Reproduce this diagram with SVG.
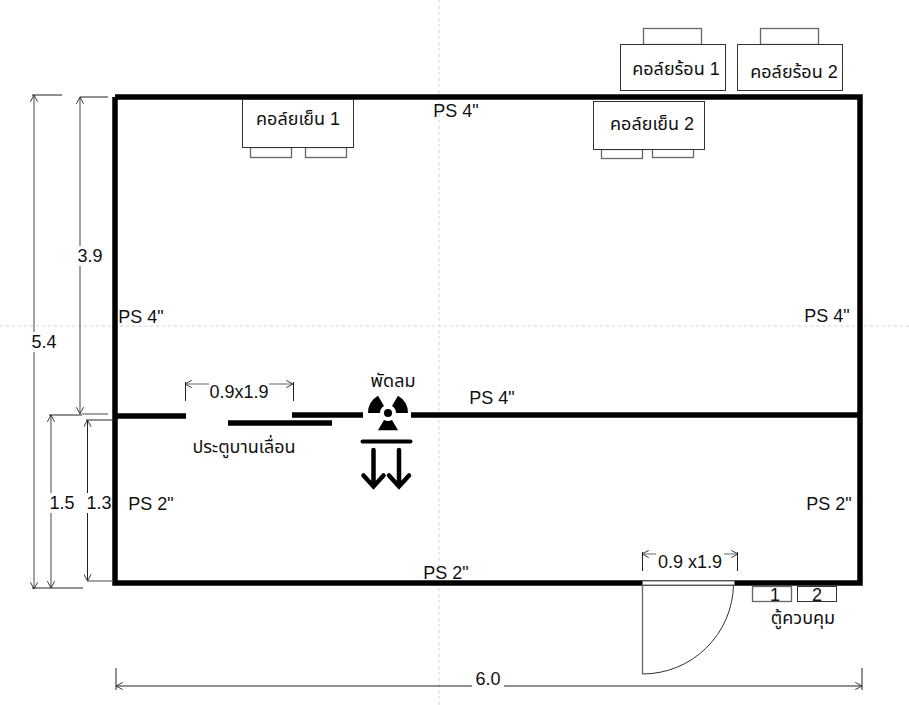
<svg xmlns="http://www.w3.org/2000/svg" width="909" height="705" viewBox="0 0 909 705">
<style>
text{font-family:"Liberation Sans","Noto Sans Thai","Noto Sans","DejaVu Sans",sans-serif;font-size:18px;fill:#111;text-anchor:middle}
.wall{fill:none;stroke:#000;stroke-width:5.500}
.dim{fill:none;stroke:#666;stroke-width:1.2}
.tick{fill:none;stroke:#222;stroke-width:1}
.box{fill:#fff;stroke:#333;stroke-width:1}
.sub{fill:#fff;stroke:#666;stroke-width:1.3}
.guide{stroke:#d4d4d4;stroke-width:1;stroke-dasharray:3 3;fill:none}
.mask{fill:#fff}
</style>
<defs>
<marker id="ah" viewBox="0 0 10 10" refX="9.5" refY="5" markerWidth="8" markerHeight="8" markerUnits="userSpaceOnUse" orient="auto-start-reverse">
<path d="M1 0.5L9.5 5L1 9.5" fill="none" stroke="#333" stroke-width="1.2"/>
</marker>
</defs>
<rect width="909" height="705" fill="#fff"/>
<g id="guides">
<path class="guide" d="M439 0V705"/>
<path class="guide" d="M0 326H909"/>
</g>
<g id="walls">
<path class="wall" d="M115 97H860V583H642M734 583H115V97"/>
<path class="wall" d="M115 416H186M292 415H363M411 415H860M228 423H332"/>
</g>
<g id="connectors">
<path class="dim" d="M34 95V589" marker-start="url(#ah)" marker-end="url(#ah)"/>
<path class="tick" d="M32 95H62M32 588H83"/>
<path class="dim" d="M80 97V414" marker-start="url(#ah)" marker-end="url(#ah)"/>
<path class="tick" d="M80 97H108"/>
<path class="dim" d="M82 414H108"/>
<path class="dim" d="M51 415V588" marker-start="url(#ah)" marker-end="url(#ah)"/>
<path class="tick" d="M49 415H82"/>
<path class="tick" d="M87.500 420V581" marker-start="url(#ah)" marker-end="url(#ah)"/>
<path class="tick" d="M86 420H117"/>
<path class="dim" d="M87 581H113"/>
<path class="dim" d="M185 384H293" marker-start="url(#ah)" marker-end="url(#ah)"/>
<path class="tick" d="M185.500 382V401M293.500 382V401"/>
<path class="dim" d="M642 554H738" marker-start="url(#ah)" marker-end="url(#ah)"/>
<path class="tick" d="M642.500 552V571M737.500 552V571"/>
<path class="tick" d="M116 686H862" marker-start="url(#ah)" marker-end="url(#ah)"/>
<path class="tick" d="M116 668V690M862 668V690"/>
</g>
<g id="dim-labels">
<rect class="mask" x="30" y="332" width="30" height="20"/>
<text x="44" y="348">5.4</text>
<rect class="mask" x="76" y="246" width="30" height="20"/>
<text x="90" y="262">3.9</text>
<rect class="mask" x="48" y="493" width="28" height="20"/>
<text x="62" y="509">1.5</text>
<rect class="mask" x="86" y="493" width="26" height="20"/>
<text x="99" y="509">1.3</text>
<rect class="mask" x="209" y="380" width="60" height="20"/>
<text x="239" y="398">0.9x1.9</text>
<rect class="mask" x="656" y="550" width="68" height="20"/>
<text x="690" y="568">0.9 x1.9</text>
<rect class="mask" x="472" y="672" width="32" height="16"/>
<text x="488" y="685">6.0</text>
</g>
<g id="wall-labels">
<text x="456" y="117">PS 4"</text>
<text x="141" y="323">PS 4"</text>
<text x="827" y="322">PS 4"</text>
<text x="492" y="404">PS 4"</text>
<text x="151" y="510">PS 2"</text>
<text x="829" y="510">PS 2"</text>
<text x="446" y="579">PS 2"</text>
</g>
<g id="hot-coil-1">
<rect class="sub" x="643.500" y="28.500" width="58" height="16"/>
<rect class="box" x="620.500" y="44.500" width="105" height="46"/>
<text x="676" y="75">คอล์ยร้อน 1</text>
</g>
<g id="hot-coil-2">
<rect class="sub" x="760.500" y="28.500" width="58" height="16"/>
<rect class="box" x="737.500" y="44.500" width="105" height="46"/>
<text x="794" y="78">คอล์ยร้อน 2</text>
</g>
<g id="cold-coil-1">
<rect class="sub" x="250.500" y="147.500" width="41" height="10"/>
<rect class="sub" x="305.500" y="147.500" width="41" height="10"/>
<rect class="box" x="242.500" y="99.500" width="111" height="48"/>
<text x="298" y="125">คอล์ยเย็น 1</text>
</g>
<g id="cold-coil-2">
<rect class="sub" x="601.500" y="149.500" width="41" height="9"/>
<rect class="sub" x="652.500" y="148.500" width="41" height="9"/>
<rect class="box" x="593.500" y="101.500" width="111" height="48"/>
<text x="652" y="130">คอล์ยเย็น 2</text>
</g>
<g id="sliding-door">
<text x="244" y="453">ประตูบานเลื่อน</text>
</g>
<g id="fan">
<text x="393" y="387">พัดลม</text>
<path d="M398 430.300L378 430.300L384 419.900A8 8 0 0 0 392 419.900ZM398 395.700A20 20 0 0 1 408 413L396 413A8 8 0 0 0 392 406.100ZM368 413A20 20 0 0 1 378 395.700L384 406.100A8 8 0 0 0 380 413Z" fill="#000"/>
<circle cx="388" cy="413" r="4" fill="#000"/>
<path d="M362.500 441.500H410.500" stroke="#000" stroke-width="4" stroke-linecap="round" fill="none"/>
<path d="M373.500 450V486M363.500 475.500L373.500 486.500L383.500 475.500M399 450V486M389 475.500L399 486.500L409 475.500" stroke="#000" stroke-width="4.500" stroke-linecap="round" fill="none"/>
</g>
<g id="door">
<rect x="642.500" y="581" width="92" height="4" fill="#fff" stroke="#666" stroke-width="1"/>
<path d="M642.500 585V674" fill="none" stroke="#666" stroke-width="1.300"/>
<path d="M642.500 674A91 91 0 0 0 733.500 585" fill="none" stroke="#333" stroke-width="1"/>
</g>
<g id="control-1">
<rect class="sub" x="752.500" y="586.500" width="39" height="15"/>
<text x="775" y="601">1</text>
</g>
<g id="control-2">
<rect class="box" x="797.500" y="586.500" width="39" height="15"/>
<text x="817" y="601">2</text>
</g>
<g id="control-label">
<text x="803" y="624">ตู้ควบคุม</text>
</g>
</svg>
